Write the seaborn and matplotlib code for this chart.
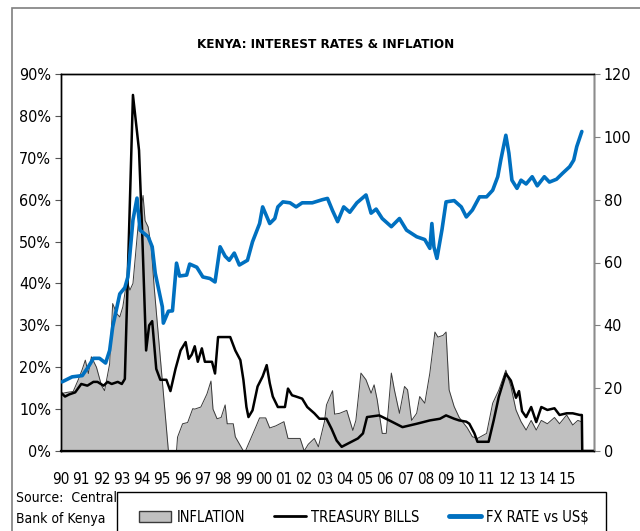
import matplotlib
matplotlib.use('Agg')
import matplotlib.pyplot as plt
import matplotlib.patches as mpatches
from matplotlib.lines import Line2D
import pandas as pd
import seaborn as sns

# values (decimal years)
inflation_years = [1990.0, 1990.3, 1990.6, 1990.85, 1991.05, 1991.2, 1991.35, 1991.5, 1991.75, 1992.0,
                   1992.15, 1992.4, 1992.55, 1992.75, 1992.9, 1993.05, 1993.25, 1993.4, 1993.55, 1993.8,
                   1994.05, 1994.15, 1994.3, 1994.45, 1994.6, 1995.3, 1995.7, 1995.75, 1996.0, 1996.25,
                   1996.5, 1996.6, 1996.9, 1997.2, 1997.4, 1997.5, 1997.7, 1997.9, 1998.1, 1998.2,
                   1998.5, 1998.6, 1999.0, 1999.1, 1999.6, 1999.8, 2000.1, 2000.3, 2000.6, 2001.0,
                   2001.2, 2001.8, 2002.0, 2002.2, 2002.5, 2002.7, 2003.0, 2003.1, 2003.4, 2003.5,
                   2003.75, 2004.1, 2004.4, 2004.55, 2004.8, 2005.05, 2005.3, 2005.45, 2005.6, 2005.85,
                   2006.05, 2006.3, 2006.45, 2006.7, 2006.95, 2007.1, 2007.3, 2007.55, 2007.7, 2007.95,
                   2008.2, 2008.45, 2008.6, 2008.85, 2009.0, 2009.15, 2009.4, 2009.65, 2010.05, 2010.3,
                   2010.55, 2011.0, 2011.3, 2011.6, 2011.95, 2012.2, 2012.45, 2012.7, 2012.95, 2013.2,
                   2013.45, 2013.7, 2014.0, 2014.35, 2014.6, 2014.95, 2015.25, 2015.5, 2015.68, 2015.72,
                   2016.3]
inflation_values = [13.7, 14.0, 14.2, 17.0, 19.5, 21.7, 18.5, 22.5, 20.0, 15.6,
                    14.4, 20.8, 35.2, 32.8, 32.0, 34.4, 40.8, 38.4, 40.0, 53.5,
                    61.0, 55.0, 53.5, 48.7, 39.0, 0.0, 0.0, 3.3, 6.5, 6.8,
                    10.1, 10.0, 10.5, 13.6, 16.7, 10.0, 7.7, 8.0, 11.0, 6.5,
                    6.5, 3.4, 0.0, 0.0, 5.6, 7.9, 7.9, 5.5, 6.0, 7.0,
                    3.0, 3.0, 0.0, 1.6, 3.0, 1.0, 7.0, 11.0, 14.4, 8.8,
                    9.0, 9.7, 4.9, 7.3, 18.6, 17.0, 13.8, 15.8, 12.3, 4.2,
                    4.2, 18.6, 14.6, 9.0, 15.4, 14.6, 7.3, 9.0, 13.0, 11.4,
                    18.6, 28.4, 27.2, 27.6, 28.4, 14.6, 10.6, 8.0, 5.5, 3.4,
                    3.0, 4.2, 11.4, 14.5, 19.3, 15.4, 9.8, 7.0, 5.0, 7.3,
                    5.0, 7.3, 6.5, 8.0, 6.5, 8.6, 6.2, 7.3, 7.0, 0.0,
                    0.0]

tbill_years = [1990.0, 1990.2, 1990.4, 1990.7, 1991.0, 1991.3, 1991.6, 1991.8, 1992.1, 1992.3,
               1992.5, 1992.8, 1993.0, 1993.15, 1993.55, 1993.85, 1994.0, 1994.2, 1994.35, 1994.5,
               1994.7, 1994.9, 1995.2, 1995.4, 1995.65, 1995.9, 1996.15, 1996.3, 1996.45, 1996.6,
               1996.75, 1996.95, 1997.1, 1997.45, 1997.6, 1997.75, 1998.35, 1998.6, 1998.85, 1999.0,
               1999.15, 1999.25, 1999.45, 1999.7, 1999.95, 2000.15, 2000.3, 2000.45, 2000.7, 2001.05,
               2001.2, 2001.4, 2001.6, 2001.9, 2002.15, 2002.5, 2002.75, 2003.1, 2003.35, 2003.6,
               2003.85, 2004.25, 2004.65, 2004.9, 2005.1, 2005.7, 2006.2, 2006.85, 2007.55, 2008.2,
               2008.7, 2009.0, 2009.4, 2009.65, 2010.0, 2010.15, 2010.4, 2010.55, 2011.1, 2011.35,
               2011.6, 2011.95, 2012.2, 2012.45, 2012.6, 2012.75, 2012.95, 2013.2, 2013.45, 2013.7,
               2014.0, 2014.35, 2014.6, 2014.95, 2015.25, 2015.6, 2015.7, 2015.72, 2016.3]
tbill_values = [13.9, 13.0, 13.5, 14.0, 16.0, 15.6, 16.5, 16.5, 15.6, 16.5,
                16.0, 16.5, 16.0, 17.2, 85.0, 71.8, 53.0, 24.0, 30.0, 31.0,
                19.6, 17.0, 17.0, 14.3, 19.6, 24.0, 26.0, 22.0, 23.0, 25.0,
                21.3, 24.5, 21.3, 21.3, 18.5, 27.2, 27.2, 24.0, 21.7, 17.0,
                10.5, 8.1, 9.7, 15.4, 17.8, 20.5, 16.2, 13.0, 10.5, 10.5,
                14.9, 13.3, 13.0, 12.5, 10.5, 9.0, 7.7, 7.7, 5.3, 2.5,
                1.0, 2.0, 3.0, 4.2, 8.1, 8.5, 7.3, 5.7, 6.5, 7.3,
                7.7, 8.5, 7.7, 7.3, 7.0, 6.5, 4.2, 2.2, 2.2, 7.3,
                12.9, 18.5, 16.8, 12.7, 14.3, 9.5, 8.1, 10.5, 6.9, 10.5,
                9.8, 10.2, 8.6, 9.0, 9.0, 8.6, 8.6, 0.0, 0.0]

fx_years = [1990.05, 1990.55, 1991.05, 1991.35, 1991.6, 1991.9, 1992.2, 1992.4, 1992.55, 1992.9,
            1993.15, 1993.3, 1993.55, 1993.75, 1993.9, 1994.3, 1994.5, 1994.65, 1995.0, 1995.05,
            1995.3, 1995.5, 1995.7, 1995.85, 1996.2, 1996.35, 1996.7, 1997.0, 1997.35, 1997.6,
            1997.85, 1998.1, 1998.3, 1998.55, 1998.8, 1999.2, 1999.45, 1999.8, 1999.95, 2000.3,
            2000.55, 2000.7, 2000.95, 2001.3, 2001.6, 2001.9, 2002.4, 2002.9, 2003.15, 2003.4,
            2003.65, 2003.95, 2004.25, 2004.6, 2005.05, 2005.3, 2005.55, 2005.85, 2006.3, 2006.7,
            2007.05, 2007.55, 2007.95, 2008.2, 2008.3, 2008.4, 2008.55, 2008.8, 2009.0, 2009.4,
            2009.75, 2010.0, 2010.3, 2010.65, 2011.0, 2011.3, 2011.55, 2011.7, 2011.95, 2012.1,
            2012.25, 2012.5, 2012.7, 2012.95, 2013.25, 2013.5, 2013.85, 2014.1, 2014.45, 2014.75,
            2015.1, 2015.3, 2015.45, 2015.7]
fx_values = [22.0, 23.6, 24.0, 26.8, 29.5, 29.5, 28.0, 32.0, 39.5, 50.0,
             52.0, 55.4, 73.5, 80.5, 70.3, 68.2, 65.0, 56.6, 45.9, 40.7,
             44.5, 44.6, 59.8, 55.7, 56.0, 59.5, 58.5, 55.4, 54.9, 53.8,
             65.0, 62.0, 60.7, 63.0, 59.2, 60.7, 66.6, 72.4, 77.7, 72.4,
             74.0, 77.7, 79.3, 79.0, 77.7, 79.0, 79.0, 80.0, 80.4, 76.5,
             73.0, 77.7, 76.0, 79.0, 81.5, 75.7, 77.0, 74.0, 71.4, 74.0,
             70.3, 68.2, 67.3, 64.5, 72.4, 65.0, 61.3, 70.5, 79.3, 79.7,
             77.7, 74.5, 76.7, 80.9, 80.9, 83.0, 87.3, 92.6, 100.5, 94.8,
             86.2, 83.6, 86.2, 85.0, 87.3, 84.4, 87.3, 85.6, 86.5, 88.4,
             90.5, 92.6, 96.9, 101.7]

tick_years = list(range(1990, 2016))
tick_labels = ['%02d' % (y % 100) for y in tick_years]

infl = pd.DataFrame({'year': inflation_years, 'rate': inflation_values})
tb = pd.DataFrame({'year': tbill_years, 'rate': tbill_values})
fx = pd.DataFrame({'year': fx_years, 'rate': fx_values})

sns.set_theme(style='white')
plt.rcParams['font.family'] = ['DejaVu Sans']
plt.rcParams['font.stretch'] = 'condensed'
plt.rcParams['text.color'] = 'black'
plt.rcParams['xtick.labelcolor'] = 'black'
plt.rcParams['ytick.labelcolor'] = 'black'

BLUE = '#0070c0'
GREY = '#c0c0c0'
FS = 11.5

fig = plt.figure(figsize=[6.4, 5.31], dpi=100)
ax = fig.add_axes([61 / 640, 1 - 451 / 531, 533 / 640, 377 / 531])
ax2 = ax.twinx()

# inflation area
ax.fill_between(infl['year'], infl['rate'], 0, color=GREY, lw=0, zorder=1)
sns.lineplot(data=infl, x='year', y='rate', ax=ax, color='#3a3a3a', lw=0.7, zorder=2,
             estimator=None, sort=False)
# treasury bills
sns.lineplot(data=tb, x='year', y='rate', ax=ax, color='black', lw=1.8, zorder=3,
             estimator=None, sort=False)
# fx rate on right axis
sns.lineplot(data=fx, x='year', y='rate', ax=ax2, color=BLUE, lw=2.6, zorder=4,
             estimator=None, sort=False)

ax.set_xlim(1990, 2016.3)
ax.set_ylim(0, 90)
ax2.set_ylim(0, 120)
ax.set_yticks(range(0, 91, 10))
ax.set_yticklabels(['%d%%' % v for v in range(0, 91, 10)])
ax2.set_yticks(range(0, 121, 20))
ax.set_xticks(tick_years)
ax.set_xticklabels(tick_labels)
ax.set_xlabel('')
ax.set_ylabel('')
ax2.set_ylabel('')

ax.tick_params(axis='x', direction='in', length=4, width=0.8, color='#555555',
               labelsize=11, pad=15)
ax.tick_params(axis='y', direction='out', length=4, width=0.8, color='#555555',
               labelsize=FS, pad=3, left=True)
ax2.tick_params(axis='y', direction='out', length=4, width=0.8, color='#808080',
                labelsize=FS, pad=3, right=True)
for a in (ax, ax2):
    for s in a.spines.values():
        s.set_visible(True)
        s.set_color('black')
        s.set_linewidth(1.0)
ax2.spines['right'].set_color('#8c8c8c')
ax.spines['bottom'].set_linewidth(1.6)
ax.grid(False)
ax2.grid(False)

fig.text(326 / 640, 1 - 45 / 531, 'KENYA: INTEREST RATES & INFLATION', ha='center', va='center',
         fontsize=9.6, fontweight='bold')

# outer chart frame (cropped)
fig.patches.append(mpatches.Rectangle((12 / 640, -0.05), 1.1, 1 - 8 / 531 + 0.05,
                                      transform=fig.transFigure, fill=False,
                                      edgecolor='#7f7f7f', lw=1.2))
# legend box
fig.patches.append(mpatches.Rectangle((117 / 640, -0.05), (606 - 117) / 640, 1 - 492 / 531 + 0.05,
                                      transform=fig.transFigure, fill=False,
                                      edgecolor='black', lw=1.0))

fig.text(16 / 640, 1 - 498 / 531, 'Source:  Central', ha='left', va='center', fontsize=10)
fig.text(16 / 640, 1 - 519 / 531, 'Bank of Kenya', ha='left', va='center', fontsize=10)

handles = [mpatches.Patch(facecolor=GREY, edgecolor='#3a3a3a', lw=1.0),
           Line2D([], [], color='black', lw=2.0),
           Line2D([], [], color=BLUE, lw=3.5)]
fig.legend(handles, ['INFLATION', 'TREASURY BILLS', 'FX RATE vs US$'],
           loc='center', bbox_to_anchor=(364 / 640, 1 - 517 / 531), ncol=3, frameon=False,
           handlelength=2.2, handletextpad=0.35, columnspacing=2.0,
           prop={'size': 10.5, 'stretch': 'condensed'})

fig.savefig('out.png', dpi=100)
